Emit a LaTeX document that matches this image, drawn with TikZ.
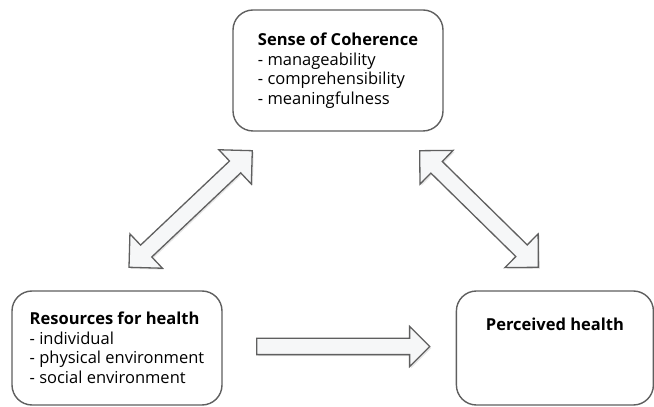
\documentclass[tikz,border=0pt]{standalone}
\usepackage{fontspec}
\setmainfont{Open Sans}
\usetikzlibrary{positioning,calc,shapes.arrows,shadows}
\definecolor{edgegray}{RGB}{95,95,95}
\definecolor{arrowfill}{RGB}{246,247,248}
\tikzset{roundbox/.style={rectangle, rounded corners=20pt, draw=edgegray, line width=1.4pt, fill=white, align=left, inner sep=0pt, font=\fontsize{16.5}{19.5}\selectfont},
blockarrow/.style={single arrow, single arrow head extend=12pt, single arrow head indent=0pt, draw=edgegray, line width=1.3pt, fill=arrowfill, inner xsep=0pt, inner ysep=7.5pt, drop shadow={shadow xshift=1.5pt, shadow yshift=-1.5pt, opacity=0.2}},
dblarrow/.style={double arrow, double arrow head extend=15.5pt, double arrow head indent=0pt, draw=edgegray, line width=1.3pt, fill=arrowfill, inner xsep=0pt, inner ysep=7.5pt, drop shadow={shadow xshift=1.5pt, shadow yshift=-1.5pt, opacity=0.2}},}

\begin{document}
\begin{tikzpicture}[x=1pt, y=1pt]
\useasboundingbox (0,0) rectangle (654,407);
\node [roundbox, minimum width=210pt, minimum height=121pt] (soc) at (338,336.5) {\textbf{Sense of Coherence}\\- manageability\\- comprehensibility\\- meaningfulness};
\node [roundbox, minimum width=210pt, minimum height=114pt] (res) at (117,59) {\textbf{Resources for health}\\- individual\\- physical environment\\- social environment};
\node [roundbox, minimum width=197pt, minimum height=114pt, text height=12pt, text depth=46pt] (ph) [right=233pt of res] {\textbf{Perceived health}};
% end points of the block arrows
\coordinate (sl) at ($(soc.south west)+(20,-19)$);
\coordinate (rl) at ($(res.north)+(12,23)$);
\coordinate (sr) at ($(soc.south east)+(-24,-19)$);
\coordinate (pr) at ($(ph.north)+(-16.5,23)$);
\coordinate (re) at ($(res.east)+(30,1.5)$);
\coordinate (pw) at ($(ph.west)+(-30,1.5)$);
\path let \p1=($(sl)-(rl)$) in node [dblarrow, minimum height={veclen(\x1,\y1)}, rotate={atan2(\y1,\x1)}] (a1) at ($(rl)!0.5!(sl)$) {};
\path let \p1=($(pr)-(sr)$) in node [dblarrow, minimum height={veclen(\x1,\y1)}, rotate={atan2(\y1,\x1)}] (a2) at ($(sr)!0.5!(pr)$) {};
\path let \p1=($(pw)-(re)$) in node [blockarrow, minimum height={veclen(\x1,\y1)}] (a3) at ($(re)!0.5!(pw)$) {};
\end{tikzpicture}
\end{document}
